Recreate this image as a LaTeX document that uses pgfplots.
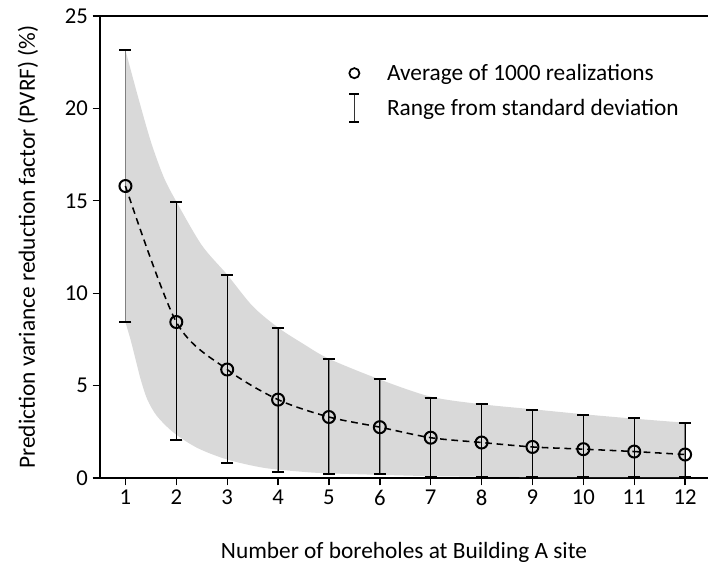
\documentclass[border=0pt]{standalone}
\usepackage{fontspec}
\setmainfont{Carlito}
\usepackage{pgfplots}
\usepackage{pgfplotstable}
\usepgfplotslibrary{fillbetween}
\pgfplotsset{compat=1.18}
\definecolor{shade}{RGB}{217,217,217}
% means and standard-deviation range (upper u, lower l)
\pgfplotstableread{
x  m     u      l
1  15.80 23.15  8.44
2  8.44  14.96  2.07
3  5.87  11.00  0.80
4  4.24  8.14   0.34
5  3.30  6.45   0.20
6  2.75  5.33   0.22
7  2.18  4.35   0.03
8  1.92  3.98   0.03
9  1.68  3.70   0.03
10 1.56  3.41   0.03
11 1.43  3.23   0.03
12 1.27  2.95   0.03
}\data
\pgfplotstableread{
x  m     u      l
2  8.44  14.96  2.07
3  5.87  11.00  0.80
4  4.24  8.14   0.34
5  3.30  6.45   0.20
6  2.75  5.33   0.22
7  2.18  4.35   0.03
8  1.92  3.98   0.03
9  1.68  3.70   0.03
10 1.56  3.41   0.03
11 1.43  3.23   0.03
12 1.27  2.95   0.03
}\datarest
% edges of the shaded band
\pgfplotstableread{
x     y
1.00  23.15
1.25  20.60
1.50  18.20
1.75  16.30
2.00  14.96
2.50  12.60
3.00  11.00
3.50  9.30
4.00  8.14
4.50  7.25
5.00  6.45
6.00  5.33
7.00  4.40
8.00  3.99
9.00  3.72
10.00 3.45
11.00 3.21
12.00 2.99
}\upperedge
\pgfplotstableread{
x     y
1.00  8.43
1.10  7.49
1.20  6.41
1.30  5.33
1.43  4.25
1.62  3.35
1.95  2.45
2.41  1.63
3.00  1.00
3.72  0.55
4.50  0.33
5.00  0.25
6.00  0.17
7.00  0.10
8.00  0.07
9.00  0.05
10.00 0.05
11.00 0.05
12.00 0.05
}\loweredge
\begin{document}
\begin{tikzpicture}
\begin{axis}[
  scale only axis,
  width=456pt, height=346.5pt,
  xmin=0.5, xmax=12.45, ymin=0, ymax=25,
  axis x line=box, axis y line=left,
  axis line style={-, line width=1.2pt, black},
  xtick={1,...,12}, ytick={0,5,...,25},
  xtick pos=left, ytick pos=left,
  tick align=outside, major tick length=5.5pt,
  tick style={line width=1pt, black},
  /pgf/number format/assume math mode=true,
  tick label style={font=\fontsize{17}{20}\selectfont},
  label style={font=\fontsize{17.5}{20}\selectfont},
  xlabel={Number of boreholes at Building A site},
  ylabel={Prediction variance reduction factor (PVRF) (\%)},
  xlabel style={at={(axis description cs:0.5,0)}, anchor=center, yshift=-55.5pt},
  ylabel style={at={(axis description cs:0,0.5)}, anchor=center, yshift=54pt},
  legend style={draw=none, fill=none, at={(axis description cs:0.4015,0.908)}, anchor=north west,
    font=\fontsize{17.5}{20}\selectfont, row sep=6pt,
    /tikz/every odd column/.append style={column sep=18pt}},
  legend cell align=left,
]
\addplot[name path=U, draw=none, smooth, forget plot] table[x=x, y=y] {\upperedge};
\addplot[name path=L, draw=none, smooth, forget plot] table[x=x, y=y] {\loweredge};
\addplot[fill=shade, draw=none, forget plot] fill between[of=U and L];

\addplot[draw=none, forget plot,
  error bars/.cd, y dir=both, y explicit,
  error bar style={draw=gray, line width=1pt},
  error mark options={rotate=90, draw=black, line width=1.5pt, mark size=4.5pt}]
  table[x=x, y=m, y error plus expr=\thisrow{u}-\thisrow{m}, y error minus expr=\thisrow{m}-\thisrow{l}] {\data};
\addplot[draw=none, forget plot,
  error bars/.cd, y dir=both, y explicit,
  error bar style={draw=black, line width=0.75pt},
  error mark options={rotate=90, draw=black, line width=1.5pt, mark size=4.5pt}]
  table[x=x, y=m, y error plus expr=\thisrow{u}-\thisrow{m}, y error minus expr=\thisrow{m}-\thisrow{l}] {\datarest};

\addplot[black, line width=1.15pt, dash pattern=on 5pt off 3.5pt, smooth, forget plot] table[x=x, y=m] {\data};
\addplot[only marks, mark=o, mark size=4.5pt, mark options={solid, draw=black, fill=white, line width=1.5pt}, forget plot] table[x=x, y=m] {\data};

\addlegendimage{only marks, mark=o, mark size=3.8pt, mark options={solid, draw=black, fill=white, line width=1.3pt}}
\addlegendentry{Average of 1000 realizations}
\addlegendimage{legend image code/.code={
  \draw[black!80, line width=0.9pt] (0.3cm,-10.5pt) -- (0.3cm,10.5pt);
  \draw[black, line width=1.5pt] (0.3cm-3.75pt,10.5pt) -- (0.3cm+3.75pt,10.5pt);
  \draw[black, line width=1.5pt] (0.3cm-3.75pt,-10.5pt) -- (0.3cm+3.75pt,-10.5pt);
}}
\addlegendentry{Range from standard deviation}
\end{axis}
\pgfresetboundingbox
\path[use as bounding box] ([xshift=-75pt, yshift=-69pt]current axis.south west) rectangle ([yshift=12pt]current axis.north east);
\end{tikzpicture}
\end{document}
